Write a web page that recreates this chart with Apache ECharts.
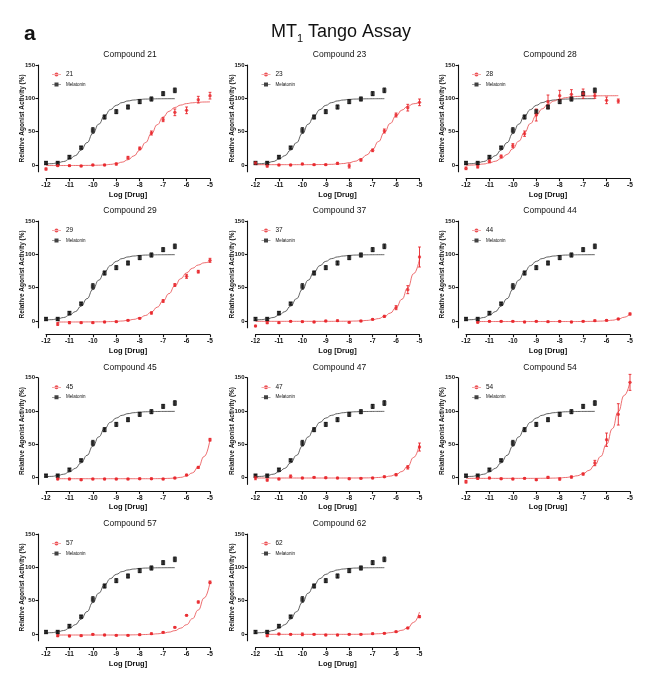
<!DOCTYPE html>
<html><head><meta charset="utf-8">
<script src="https://cdn.jsdelivr.net/npm/echarts@6/dist/echarts.min.js"></script>
<style>html,body{margin:0;padding:0;background:#fff}#chart{width:664px;height:683px}</style>
</head><body><div id="chart"></div>
<script>
// ---- data ----
const doseX = [-12,-11.5,-11,-10.5,-10,-9.5,-9,-8.5,-8,-7.5,-7,-6.5,-6,-5.5,-5];
const fitX = [-12,-11.75,-11.5,-11.25,-11,-10.75,-10.5,-10.25,-10,-9.75,-9.5,-9.25,-9,-8.75,-8.5,-8.25,-8,-7.75,-7.5,-7.25,-7,-6.75,-6.5,-6.25,-6,-5.75,-5.5,-5.25,-5];
const yTicks = [0,50,100,150];
const compounds = ['21','23','28','29','37','44','45','47','54','57','62'];

const melatonin    = [3,3,12,26,52,72,80,87,95,99,107,112,null,null,null];
const melatoninErr = [2,2,2,2,4,3,3,3,3,3,3,3.5,null,null,null];
const melatoninFit = [1.4,2.0,3.2,5.2,8.6,14.0,22.3,33.5,47.2,61.2,73.6,83.0,89.5,93.6,96.1,97.5,98.4,98.9,99.1,99.3,99.4,99.45,99.5,null,null,null,null,null,null];

const c21    = [-6,-1,-1,-1.5,0,0,1.5,11,25,48,68,79,82,98,104];
const c21Err = [1.5,1,1,1,1,1,1.5,2,2,3,3,5,5,5,5];
const c21Fit = [-0.8,-0.8,-0.8,-0.8,-0.7,-0.7,-0.7,-0.6,-0.5,-0.3,0.1,0.9,2.1,4.3,7.9,13.6,22.2,33.7,47.1,60.5,72.0,80.5,86.3,89.9,92.1,93.3,94.1,94.5,94.7];

const c23    = [3,-1.5,0,0,1.5,0.5,0.5,2.5,-1.5,7.5,22,51,75,86,94];
const c23Err = [2,1.5,1,1,1,1,1,1.5,3,1.5,2,3,3,5,5];
const c23Fit = [0.5,0.5,0.5,0.5,0.5,0.5,0.51,0.52,0.53,0.55,0.6,0.67,0.8,1.0,1.5,2.2,3.5,5.6,9.3,15.1,23.7,35.2,48.8,62.3,73.8,82.4,88.2,91.9,94.0];

const c28    = [-5,-2.5,5.5,13,29,47,75,95,104,106,107,104,97,96,null];
const c28Err = [2,2,2,2,3,4,9,10,8,7,7,4,5,3,null];
const c28Fit = [-0.5,-0.1,0.5,1.5,3.1,5.6,9.7,15.8,24.4,35.7,48.8,62.2,74.3,84.1,91.1,96.0,99.0,101.0,102.2,102.9,103.3,103.5,103.7,103.8,103.9,103.9,104.0,null,null];

const c29    = [null,-4.5,-2.5,-2.5,-2.5,-1.5,-1,1,4,12,30,54,67,74,91];
const c29Err = [null,2,1.5,1,1,1,1,1,1,1.5,2,2,3,2,3];
const c29Fit = [null,null,-1.5,-1.5,-1.45,-1.45,-1.4,-1.35,-1.3,-1.25,-1.1,-0.9,-0.6,0.0,1.0,2.45,4.8,8.3,13.5,20.8,30.2,41.1,52.6,63.4,72.3,79.1,84.0,87.3,89.4];

const c37    = [-7.5,-2.5,-2.5,-0.5,-1,-1.5,0,0.5,-2,0,2.5,7,20,47,96];
const c37Err = [1,1.5,1,1,1,1,1,1,1,1,1,1.5,3,6,15];
const c37Fit = [-0.5,-0.5,-0.5,-0.5,-0.5,-0.5,-0.5,-0.5,-0.5,-0.5,-0.5,-0.5,-0.5,-0.5,-0.42,-0.37,-0.26,-0.08,0.25,0.83,1.85,3.6,6.7,11.8,20.1,32.6,49.7,71,93];

const c44    = [null,-2,-0.5,-0.5,-0.5,-1.5,-0.5,-1,-0.5,-1.5,-0.5,0.5,1,3,10.5];
const c44Err = [null,1,1,1,1,1,1,1,1,1,1,1,1,1,1.5];
const c44Fit = [null,null,-0.8,-0.8,-0.8,-0.8,-0.8,-0.8,-0.8,-0.8,-0.8,-0.8,-0.8,-0.8,-0.8,-0.8,-0.8,-0.8,-0.8,-0.8,-0.7,-0.6,-0.45,-0.15,0.3,1.2,2.8,5.6,10.5];

const c45    = [null,-2,-2,-3,-2,-2,-2,-2,-1.5,-1.5,-2,-0.5,4,15.5,57];
const c45Err = [null,1,1,1,1,1,1,1,1,1,1,1,1,1.5,2];
const c45Fit = [null,null,-1.5,-1.5,-1.5,-1.5,-1.5,-1.5,-1.5,-1.5,-1.5,-1.5,-1.5,-1.5,-1.5,-1.5,-1.5,-1.5,-1.5,-1.4,-1.3,-1.0,-0.5,0.5,2.7,7.2,15.9,31.8,57];

const c47    = [0,-3.5,-2,2,-0.5,0.5,0,-0.5,-1.5,-1,-0.5,1.5,4.5,15.5,46];
const c47Err = [3,1.5,1,2,1,1,1,1,1,1,1,1,1.5,2.5,6];
const c47Fit = [-0.45,-0.45,-0.45,-0.45,-0.45,-0.45,-0.45,-0.45,-0.45,-0.45,-0.45,-0.45,-0.45,-0.45,-0.45,-0.45,-0.45,-0.43,-0.38,-0.27,-0.05,0.32,1.05,2.4,4.85,9.3,17.2,30.4,50.5];

const c54    = [-6,-1,-0.5,-1.5,-2,-1,-3,0.5,-2,1,5.5,22,57,95,143];
const c54Err = [2,1.5,1,1,1,1,1,1.5,1.5,1.5,1.5,4,10,16,12];
const c54Fit = [-1,-1,-1,-1,-1,-1,-1,-1,-1,-1,-1,-1,-0.93,-0.87,-0.77,-0.6,-0.3,0.3,1.2,2.9,6.1,10.9,19.1,31.9,50.3,73.6,99,123.4,144];

const c57    = [null,-2.5,-3,-2.5,-0.5,-1.5,-2,-2,-1,0.5,2.5,10,28,48,77.5];
const c57Err = [null,1.5,1,1,1,1,1,1,1,1,1,1,1,1.5,2];
const c57Fit = [null,null,-1.5,-1.5,-1.5,-1.5,-1.5,-1.5,-1.5,-1.5,-1.5,-1.5,-1.5,-1.45,-1.4,-1.25,-1.0,-0.75,-0.4,0.3,1.2,2.8,5,8.8,14,23,36,54,77.5];

const c62    = [null,-2.5,0,-0.5,-0.5,-0.5,-1.5,-1.5,-0.5,-0.5,0.5,1,3.5,9,26];
const c62Err = [null,1.5,1,1,2,1,1,1,1,1,1,1,1,1,1.5];
const c62Fit = [null,null,-0.5,-0.5,-0.5,-0.5,-0.5,-0.5,-0.5,-0.5,-0.5,-0.5,-0.5,-0.5,-0.5,-0.5,-0.5,-0.45,-0.4,-0.2,0,0.4,1.0,2.0,3.3,5.6,9.3,17.5,33];

const compoundTable = {
  '21':{y:c21,err:c21Err,fit:c21Fit}, '23':{y:c23,err:c23Err,fit:c23Fit},
  '28':{y:c28,err:c28Err,fit:c28Fit}, '29':{y:c29,err:c29Err,fit:c29Fit},
  '37':{y:c37,err:c37Err,fit:c37Fit}, '44':{y:c44,err:c44Err,fit:c44Fit},
  '45':{y:c45,err:c45Err,fit:c45Fit}, '47':{y:c47,err:c47Err,fit:c47Fit},
  '54':{y:c54,err:c54Err,fit:c54Fit}, '57':{y:c57,err:c57Err,fit:c57Fit},
  '62':{y:c62,err:c62Err,fit:c62Fit}
};

// ---- layout / style ----
const FONT = "'Liberation Sans', Arial, sans-serif";
const RED = '#e8262b', RED_LINE = '#e8494b', BLACK = '#111111', BLACK_LINE = '#3a3a3a';
const colLeft = [46, 255.5, 466];
const rowTop = [65, 221, 377.7, 534];
const gridW = 164, gridH = 106.67;

const chart = echarts.init(document.getElementById('chart'));

const grids = [], xAxes = [], yAxes = [], titles = [], legends = [], series = [];

titles.push({text:'a', left:19, top:19, textStyle:{fontFamily:FONT, fontSize:21, fontWeight:'bold', color:'#111'}});
titles.push({
  text:'{t|MT}{s|1}{t| Tango Assay}', left:336, top:15, textAlign:'center',
  textStyle:{fontWeight:'normal', rich:{
    t:{fontFamily:FONT, fontSize:18, fontWeight:'normal', color:'#111', lineHeight:24, verticalAlign:'middle'},
    s:{fontFamily:FONT, fontSize:11, fontWeight:'normal', color:'#111', lineHeight:12, verticalAlign:'bottom'}
  }}
});

function pts(xs, ys){ const o=[]; xs.forEach((x,k)=>{ if(ys[k]!=null) o.push([x, ys[k]]); }); return o; }
function bars(xs, ys, es){ const o=[]; xs.forEach((x,k)=>{ if(ys[k]!=null) o.push([x, ys[k]-es[k], ys[k]+es[k]]); }); return o; }
function errRender(color, cap){
  return function(params, api){
    const x = api.value(0), lo = api.value(1), hi = api.value(2);
    const a = api.coord([x, hi]), b = api.coord([x, lo]);
    const style = {stroke: color, lineWidth: 0.9};
    return {type:'group', children:[
      {type:'line', shape:{x1:a[0], y1:a[1], x2:b[0], y2:b[1]}, style},
      {type:'line', shape:{x1:a[0]-cap, y1:a[1], x2:a[0]+cap, y2:a[1]}, style},
      {type:'line', shape:{x1:b[0]-cap, y1:b[1], x2:b[0]+cap, y2:b[1]}, style}
    ]};
  };
}
const redIcon = 'path://M0,1.7H9V2.3H0Z M2.5,2A2,2 0 1,0 6.5,2A2,2 0 1,0 2.5,2Z';
const blackIcon = 'path://M0,1.7H9V2.3H0Z M2.5,0H6.5V4H2.5Z';

compounds.forEach((c, i) => {
  const col = i % 3, row = Math.floor(i / 3);
  const d = compoundTable[c];
  const gl = colLeft[col], gt = rowTop[row];
  grids.push({left: gl, top: gt, width: gridW, height: gridH});
  xAxes.push({
    gridIndex:i, type:'value', min:-12, max:-5, interval:1, offset:7,
    name:'Log [Drug]', nameLocation:'middle', nameGap:12, nameMoveOverlap:false,
    nameTextStyle:{fontFamily:FONT, fontSize:7.5, fontWeight:'bold', color:'#111'},
    axisLine:{onZero:false, lineStyle:{color:'#111', width:1.1}},
    axisTick:{length:2.5, lineStyle:{color:'#111', width:1.1}},
    axisLabel:{fontFamily:FONT, fontSize:6.5, fontWeight:'bold', color:'#111', margin:3.5},
    splitLine:{show:false}
  });
  yAxes.push({
    gridIndex:i, type:'value', min:-10, max:150, offset:8,
    name:'Relative Agonist Activity (%)', nameLocation:'middle', nameGap:12, nameMoveOverlap:false,
    nameTextStyle:{fontFamily:FONT, fontSize:6.5, fontWeight:'bold', color:'#111'},
    axisLine:{onZero:false, lineStyle:{color:'#111', width:1.1}},
    axisTick:{customValues:yTicks, length:2.5, lineStyle:{color:'#111', width:1.1}},
    axisLabel:{customValues:yTicks, fontFamily:FONT, fontSize:6, fontWeight:'bold', color:'#111', margin:3},
    splitLine:{show:false}
  });
  titles.push({
    text:'Compound ' + c, left: gl + gridW/2 - 3, top: gt - 20, textAlign:'center',
    textStyle:{fontFamily:FONT, fontSize:8.5, fontWeight:'normal', color:'#111'}
  });
  legends.push({
    left: gl + 1, top: gt + 1, orient:'vertical', itemWidth:9, itemHeight:4, itemGap:4,
    selectedMode:false,
    data:[{name:c, icon:redIcon, itemStyle:{color:RED}}, {name:'Melatonin', icon:blackIcon, itemStyle:{color:BLACK}}],
    formatter: n => n === 'Melatonin' ? '{m|Melatonin}' : '{c|' + n + '}',
    textStyle:{rich:{
      c:{fontFamily:FONT, fontSize:6.5, color:'#111'},
      m:{fontFamily:FONT, fontSize:4.5, color:'#111'}
    }}
  });
  series.push({
    type:'line', name:'Melatonin fit', xAxisIndex:i, yAxisIndex:i, data:pts(fitX, melatoninFit),
    smooth:true, smoothMonotone:'x', showSymbol:false, silent:true, z:2,
    lineStyle:{color:BLACK_LINE, width:0.8}
  });
  series.push({
    type:'line', name:c + ' fit', xAxisIndex:i, yAxisIndex:i, data:pts(fitX, d.fit),
    smooth:true, smoothMonotone:'x', showSymbol:false, silent:true, z:2,
    lineStyle:{color:RED_LINE, width:0.8}
  });
  series.push({
    type:'custom', name:'Melatonin err', xAxisIndex:i, yAxisIndex:i, data:bars(doseX, melatonin, melatoninErr),
    renderItem: errRender(BLACK, 1.6), encode:{x:0, y:[1,2]}, clip:false, silent:true, z:3
  });
  series.push({
    type:'custom', name:c + ' err', xAxisIndex:i, yAxisIndex:i, data:bars(doseX, d.y, d.err),
    renderItem: errRender(RED, 1.4), encode:{x:0, y:[1,2]}, clip:false, silent:true, z:3
  });
  series.push({
    type:'scatter', name:'Melatonin', xAxisIndex:i, yAxisIndex:i, data:pts(doseX, melatonin),
    symbol:'rect', symbolSize:[4,4.4], itemStyle:{color:BLACK}, silent:true, z:4, clip:false
  });
  series.push({
    type:'scatter', name:c, xAxisIndex:i, yAxisIndex:i, data:pts(doseX, d.y),
    symbol:'circle', symbolSize:3.4, itemStyle:{color:RED}, silent:true, z:4, clip:false
  });
});

chart.setOption({
  animation:false, backgroundColor:'#fff',
  title: titles, grid: grids, xAxis: xAxes, yAxis: yAxes, legend: legends, series: series
});
</script></body></html>
